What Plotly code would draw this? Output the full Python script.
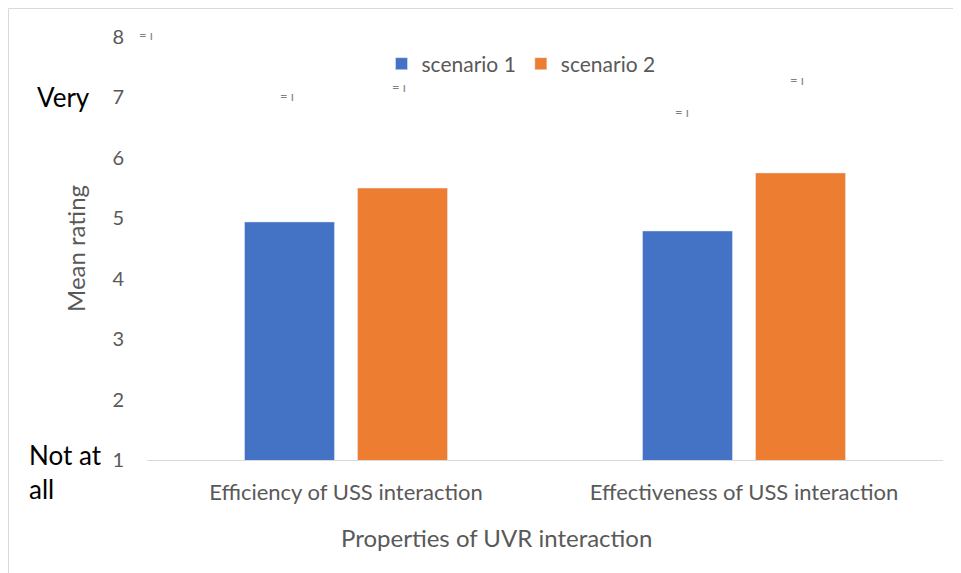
import plotly.graph_objects as go

categories = ["Efficiency of USS interaction", "Effectiveness of USS interaction"]
scenario1 = [4.94, 4.79]
scenario2 = [5.50, 5.75]
series_names = ["scenario 1", "scenario 2"]
y_ticks = [1, 2, 3, 4, 5, 6, 7, 8]
x_title = "Properties of UVR interaction"

FONT = "Lato, 'Open Sans', sans-serif"
GRAY = "#595959"

fig = go.Figure()
fig.add_trace(go.Bar(x=categories, y=scenario1, name=series_names[0], marker_color="#4472C4"))
fig.add_trace(go.Bar(x=categories, y=scenario2, name=series_names[1], marker_color="#ED7D31"))

OFF = 8  # page body margin
W, H = 961, 573
L, R, T, B = 147 - OFF, 943 - OFF, 37 - OFF, 460 - OFF
def px(x):
    return (x - OFF - L) / (R - L)
def py(y):
    return (B - (y - OFF)) / (B - T)

annotations = [
    dict(text="Very", x=px(92), y=py(97), xref="paper", yref="paper", xanchor="right", yanchor="middle",
         showarrow=False, font=dict(size=26, color="black", family=FONT)),
    dict(text="Not at<br>all", x=px(27), y=py(472), xref="paper", yref="paper", xanchor="left", yanchor="middle",
         align="left", showarrow=False, font=dict(size=26, color="black", family=FONT)),
    dict(text=x_title, x=px(496), y=py(537), xref="paper", yref="paper", xanchor="center", yanchor="middle",
         showarrow=False, font=dict(size=24, color=GRAY, family=FONT)),
]
# small error-bar remnants seen in the original
for gx, gy in [(146, 35), (287, 96), (399, 87), (682, 112), (797, 80)]:
    annotations.append(dict(text="= ı", x=px(gx), y=py(gy), xref="paper", yref="paper",
                            xanchor="center", yanchor="middle", showarrow=False,
                            font=dict(size=13, color="#7f7f7f", family=FONT)))

fig.update_layout(
    width=W, height=H,
    margin=dict(l=L, r=W - R, t=T, b=H - B),
    paper_bgcolor="white", plot_bgcolor="white",
    barmode="group", bargap=0.432, bargroupgap=0.204,
    font=dict(family=FONT, color=GRAY),
    showlegend=True,
    legend=dict(orientation="h", x=px(521), xanchor="center", y=py(64), yanchor="middle",
                font=dict(size=21, color=GRAY, family=FONT), bgcolor="rgba(0,0,0,0)",
                traceorder="normal"),
    xaxis=dict(showline=True, linecolor="#d9d9d9", linewidth=1, ticks="",
               tickfont=dict(size=22, color=GRAY, family=FONT), ticklabelstandoff=13,
               showgrid=False),
    yaxis=dict(range=[1, 8], tickvals=y_ticks, showline=False, showgrid=False, zeroline=False,
               tickfont=dict(size=20, color=GRAY, family=FONT), ticks="", ticklen=0,
               ticklabelstandoff=22,
               title=dict(text="Mean rating", font=dict(size=24, color=GRAY, family=FONT), standoff=19)),
    annotations=annotations,
    shapes=[dict(type="rect", xref="paper", yref="paper", x0=px(8.5), x1=px(W + 40), y0=py(H + 60), y1=py(8.5),
                 line=dict(color="#d9d9d9", width=1), fillcolor="rgba(0,0,0,0)", layer="below")],
)

fig.write_html("out.html")
